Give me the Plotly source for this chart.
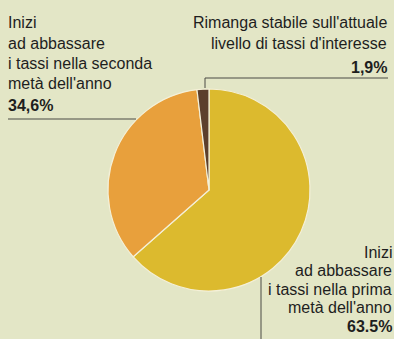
import plotly.graph_objects as go

# Survey answers (share of respondents, %)
labels = [
    "Inizi ad abbassare i tassi nella prima metà dell'anno",
    "Inizi ad abbassare i tassi nella seconda metà dell'anno",
    "Rimanga stabile sull'attuale livello di tassi d'interesse",
]
values = [63.5, 34.6, 1.9]
value_texts = ["63.5%", "34,6%", "1,9%"]
colors = ["#dcba2e", "#e8a03c", "#5c3f2c"]

W, H = 394, 339
BG = "#e3e6c6"
INK = "#1e1e1e"
LINE = "#4a4a44"


def px(x):
    return x / W


def py(y):
    return 1 - y / H


fig = go.Figure(
    go.Pie(
        labels=labels,
        values=values,
        sort=False,
        direction="clockwise",
        rotation=0,
        marker=dict(colors=colors, line=dict(color="#f4f0d8", width=1.2)),
        textinfo="none",
        hoverinfo="skip",
        domain=dict(x=[px(108), px(310)], y=[py(291), py(89)]),
        showlegend=False,
    )
)

annotations = []


def text_block(lines, x, y0, step, anchor, pct, pct_y):
    for i, t in enumerate(lines):
        annotations.append(dict(
            x=px(x), y=py(y0 + i * step), xref="paper", yref="paper",
            text=t, showarrow=False, xanchor=anchor, yanchor="middle",
            font=dict(family="Liberation Sans, Arial", size=16, color=INK),
        ))
    annotations.append(dict(
        x=px(x), y=py(pct_y), xref="paper", yref="paper",
        text="<b>" + pct + "</b>", showarrow=False, xanchor=anchor, yanchor="middle",
        font=dict(family="Liberation Sans, Arial", size=16, color=INK),
    ))


text_block(["Inizi", "ad abbassare", "i tassi nella seconda", "metà dell'anno"],
           6, 23, 20, "left", value_texts[1], 105)
text_block(["Rimanga stabile sull'attuale", "livello di tassi d'interesse"],
           389, 22, 21, "right", value_texts[2], 68)
text_block(["Inizi", "ad abbassare", "i tassi nella prima", "metà dell'anno"],
           394, 252, 18.5, "right", value_texts[0], 326)

shapes = [
    # leader for the second-half slice
    dict(type="line", xref="paper", yref="paper",
         x0=px(8), y0=py(119), x1=px(136), y1=py(119),
         line=dict(color=LINE, width=1)),
    # leader for the stable-rates slice
    dict(type="line", xref="paper", yref="paper",
         x0=px(205), y0=py(78), x1=px(388), y1=py(78),
         line=dict(color=LINE, width=1)),
    dict(type="line", xref="paper", yref="paper",
         x0=px(205), y0=py(78), x1=px(205), y1=py(88),
         line=dict(color=LINE, width=1)),
    # leader for the first-half slice
    dict(type="line", xref="paper", yref="paper",
         x0=px(261), y0=py(277), x1=px(261), y1=py(339),
         line=dict(color=LINE, width=1)),
]

fig.update_layout(
    width=W, height=H,
    margin=dict(l=0, r=0, t=0, b=0),
    paper_bgcolor=BG, plot_bgcolor=BG,
    annotations=annotations,
    shapes=shapes,
)

fig.write_html("out.html", config=dict(displayModeBar=False))
